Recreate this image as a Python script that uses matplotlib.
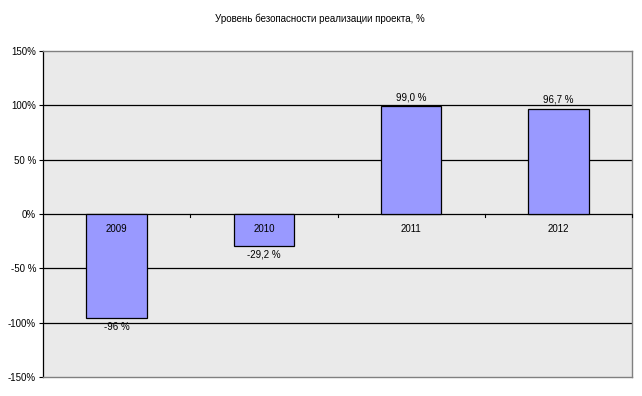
import matplotlib
matplotlib.use("Agg")
import matplotlib.pyplot as plt

title = "Уровень безопасности реализации проекта, %"
years = ["2009", "2010", "2011", "2012"]
values = [-96.0, -29.2, 99.0, 96.7]
value_labels = ["-96 %", "-29,2 %", "99,0 %", "96,7 %"]
yticks = [-150, -100, -50, 0, 50, 100, 150]
ytick_labels = ["-150%", "-100%", "-50 %", "0%", "50 %", "100%", "150%"]

plt.rcParams['font.family'] = ['Liberation Sans', 'DejaVu Sans']
fig = plt.figure(figsize=(6.42, 3.96), dpi=100)
ax = fig.add_axes([43/642, 1-377/396, (632-43)/642, (377-51)/396])
ax.set_facecolor('#EAEAEA')

x = list(range(len(years)))
ax.bar(x, values, width=0.41, color='#9999FF', edgecolor='black', linewidth=0.9, zorder=3)
ax.set_xlim(-0.5, len(years) - 0.5)
ax.set_ylim(-150, 150)

for yv in yticks[1:-1]:
    ax.axhline(yv, color='black', linewidth=0.9, zorder=1)

ax.set_yticks(yticks)
ax.set_yticklabels(ytick_labels, fontsize=7)
ax.tick_params(axis='y', length=3, width=0.8, pad=2)
ax.set_xticks([])

for s in ['top', 'right', 'bottom']:
    ax.spines[s].set_color('#808080')
    ax.spines[s].set_linewidth(1.0)
ax.spines['left'].set_color('black')
ax.spines['left'].set_linewidth(0.9)

# category boundary ticks on zero line
for b in [0.5, 1.5, 2.5, 3.5]:
    ax.plot([b, b], [0, -2.5], color='black', linewidth=0.8, zorder=4, clip_on=False)

for i, (v, lab) in enumerate(zip(values, value_labels)):
    if v < 0:
        ax.annotate(lab, (i, v), xytext=(0, -3), textcoords='offset points',
                    ha='center', va='top', fontsize=7)
    else:
        ax.annotate(lab, (i, v), xytext=(0, 3), textcoords='offset points',
                    ha='center', va='bottom', fontsize=7)
    ax.annotate(years[i], (i, 0), xytext=(0, -7), textcoords='offset points',
                ha='center', va='top', fontsize=7, zorder=5)

fig.text(320/642, 1-19/396, title, ha='center', va='center', fontsize=7)
fig.savefig('out.png', dpi=100)
